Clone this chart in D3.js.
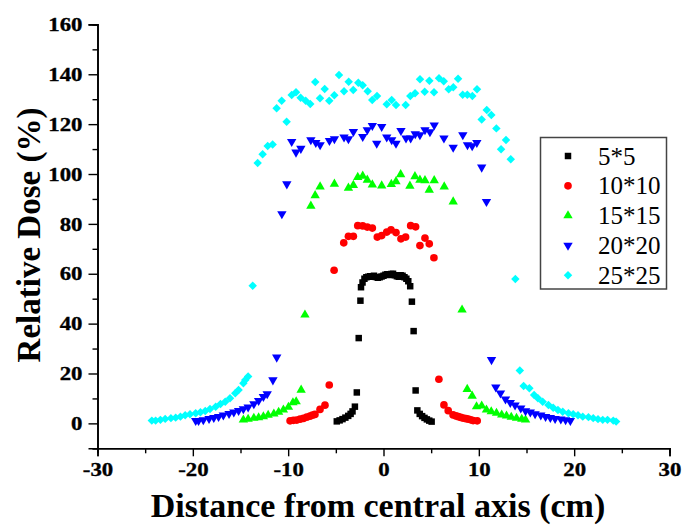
<!DOCTYPE html>
<html><head><meta charset="utf-8">
<script src="https://cdn.jsdelivr.net/npm/d3@7"></script>
<style>
body{margin:0;background:#fff;}
svg{display:block;}
</style></head><body>
<svg id="chart" width="683" height="527"></svg>
<script>
// Beam profiles: relative dose (%) against off-axis distance (cm)
const seriesNames = ["5*5", "10*10", "15*15", "20*20", "25*25"];
const seriesColors = ["#000000", "#ff0000", "#00ff00", "#0000ff", "#00ffff"];
const seriesShapes = ["square", "circle", "triangle", "triangleDown", "diamond"];

const field5 = [
  [-4.9,0.8],[-4.6,1.2],[-4.3,1.7],[-4.0,2.3],[-3.7,3.0],[-3.45,3.8],[-3.25,4.8],[-3.0,6.7],[-2.8,12.4],[-2.6,34.2],[-2.42,49.2],
  [-2.36,54.6],[-2.2,56.5],[-2.0,58],[-1.8,58.6],[-1.6,58.8],[-1.4,59],[-1.2,58.8],[-1.0,59.2],[-0.8,58.7],[-0.6,58.4],[-0.4,58.6],
  [-0.2,58.9],[0,59.2],[0.2,59.6],[0.4,59.8],[0.6,59.5],[0.8,59.9],[1.0,60],[1.2,59.4],[1.4,59],[1.6,58.8],[1.8,59.4],[2.0,59.2],
  [2.2,58.6],[2.4,58],[2.6,57],[2.8,55],
  [2.98,48.8],[3.16,37],[3.37,13.2],[3.55,5.2],[3.8,3.8],[4.05,2.9],[4.3,2.2],[4.55,1.6],[4.8,1.1],[5.05,0.7]
];
const field10 = [
  [-9.8,1.0],[-9.45,1.2],[-9.1,1.3],[-8.75,1.7],[-8.4,2.0],[-8.05,2.5],[-7.71,2.9],[-7.45,3.3],[-7.19,3.6],[-6.66,5.6],[-6.14,7.3],[-5.69,15.4],
  [-5.18,61.4],[-4.17,72.4],[-3.68,75],[-3.16,75],[-2.7,79.3],[-2.18,79.2],[-1.7,78.7],[-1.17,78.3],[-0.65,74.7],[-0.19,75.3],
  [0.34,76.7],[0.79,77.6],[1.31,76.5],[1.83,74],[2.32,74.7],[2.85,79.3],[3.37,78.8],[3.82,71.3],[4.35,74.3],[4.8,72],[5.29,66.4],
  [5.81,17.7],[6.34,7.4],[6.79,5.1],[7.3,3.4],[7.6,3.0],[7.85,2.7],[8.1,2.4],[8.37,2.1],[8.65,1.9],[8.9,1.7],[9.15,1.4],[9.4,1.1],[9.83,1.0]
];
const field15 = [
  [-14.7,1.4],[-14.2,1.7],[-13.6,2.1],[-13.1,2.3],[-12.6,2.7],[-12.1,3.3],[-11.5,3.8],[-11.0,4.5],[-10.5,5.4],[-9.97,6.5],[-9.5,8.3],
  [-9.16,8.7],[-8.64,13.4],[-8.24,43.5],
  [-7.62,87.2],[-7.17,91.4],[-6.65,94.9],[-5.15,96],[-3.68,94.4],[-3.16,95.5],[-2.7,98.7],[-2.18,99.2],[-1.7,97.6],[-1.17,95.7],
  [-0.19,95.3],[0.82,95.9],[1.31,97],[1.8,99.8],[2.77,95.2],[3.3,99],[3.82,97.6],[4.35,97.4],[4.8,93.6],[5.32,97.4],[6.37,94.9],[7.31,88.9],
  [8.24,45.5],[8.78,13.7],[9.3,11],[9.76,6.7],[10.3,7.0],[10.8,5.4],[11.3,4.7],[11.85,4.1],[12.4,3.4],[12.9,3.0],[13.4,2.5],
  [13.95,2.1],[14.5,1.7],[14.9,1.4]
];
const field20 = [
  [-19.7,1.1],[-19.4,1.1],[-18.9,1.4],[-18.3,1.9],[-17.8,2.3],[-17.3,2.7],[-16.8,3.3],[-16.2,3.9],[-15.7,4.5],[-15.2,5.1],[-14.7,5.8],
  [-14.2,6.5],[-13.6,7.8],[-13.1,9.1],[-12.6,10.7],[-12.2,11.8],[-11.6,17.4],[-11.2,26.5],
  [-10.66,84],[-10.14,96],[-9.63,113],[-9.18,108.7],[-8.67,110.2],[-7.62,113.7],[-7.1,112.6],[-6.65,111.7],[-5.67,113.4],[-5.15,114.1],
  [-4.14,114.8],[-3.68,114.1],[-3.16,117],[-2.18,115],[-1.7,117.7],[-1.17,119.4],[-0.71,112.3],[-0.19,119],[0.34,114.8],[0.86,113.7],
  [1.31,112.3],[1.83,117.4],[2.36,114.4],[2.85,114.4],[3.33,116.1],[3.82,115.7],[4.35,117.7],[4.87,116.9],[5.32,119.6],[6.34,114.4],
  [7.31,110.7],[8.32,115.7],[8.81,111.7],[9.3,111.3],[9.79,112.6],[10.3,102.7],[10.8,88.9],
  [11.33,25.5],[11.78,14.5],[12.27,12.1],[12.8,9.7],[13.3,8.3],[13.8,7.3],[14.4,6.1],[14.9,5.0],[15.4,4.5],[15.9,3.8],[16.5,3.3],
  [17.0,2.7],[17.5,2.3],[18.0,1.9],[18.6,1.7],[19.1,1.4],[19.6,1.1]
];
const field25 = [
  [-24.3,1.1],[-23.9,1.1],[-23.4,1.4],[-22.9,1.8],[-22.3,2.1],[-21.8,2.3],[-21.3,2.7],[-20.8,3.3],[-20.3,3.7],[-19.7,4.1],[-19.2,4.5],
  [-18.7,5.0],[-18.2,5.8],[-17.6,6.7],[-17.1,7.8],[-16.6,8.7],[-16.1,10.1],[-15.55,12.1],[-15.2,13.4],[-14.7,16.1],[-14.5,17.4],[-14.2,18.8],
  [-13.72,55.2],[-13.2,104.4],[-12.68,107.9],[-12.15,111.2],[-11.63,111.8],
  [-11.21,126.4],[-10.68,129.4],[-10.16,121.0],[-9.63,131.7],[-9.18,132.8],[-8.69,130.6],[-8.16,129.4],[-7.68,128.1],[-7.16,136.9],
  [-6.66,130.4],[-6.17,134.1],[-5.69,129.4],[-5.16,131.6],[-4.67,139.7],[-4.14,133.2],[-3.65,137.0],[-3.17,133.7],[-2.64,136.6],
  [-2.18,135.6],[-1.66,133.2],[-1.18,129.7],[-0.68,131.3],[0.34,128.0],[0.86,129.7],[1.31,127.7],[2.33,127.7],[2.81,131.3],[3.31,132.4],
  [3.83,138.0],[4.32,133.0],[4.81,137.4],[5.30,132.8],[5.82,138.4],[6.32,137.2],[6.84,134.0],[7.32,134.8],[7.82,138.2],[8.31,131.8],
  [8.79,131.8],[9.32,131.3],[9.81,134.0],[10.30,121.9],[10.83,125.7],[11.31,123.7],[11.84,118.3],[12.33,109.9],[12.85,113.6],[13.35,105.9],
  [13.83,57.9],
  [14.3,21.2],[14.7,15.0],[15.3,14.1],[15.8,11.4],[16.2,10.1],[16.7,8.7],[17.3,7.4],[17.8,6.3],[18.3,5.4],[18.8,4.7],[19.4,4.1],
  [19.9,3.7],[20.4,3.3],[20.9,2.7],[21.5,2.5],[22.0,2.1],[22.5,1.7],[23.0,1.4],[23.5,1.4],[24.1,1.1],[24.4,0.7]
];
const seriesData = [field5, field10, field15, field20, field25];

const xMajorTicks = [-30, -20, -10, 0, 10, 20, 30];
const xMinorTicks = [-25, -15, -5, 5, 15, 25];
const yMajorTicks = [0, 20, 40, 60, 80, 100, 120, 140, 160];
const yMinorTicks = [-10, 10, 30, 50, 70, 90, 110, 130, 150];

const svg = d3.select("#chart");
const x = d3.scaleLinear().domain([-30, 30]).range([97.5, 669.5]);
const y = d3.scaleLinear().domain([-10, 160]).range([448.3, 24.4]);
const font = "Liberation Serif, Times New Roman, serif";
const labelStretch = 1.17;   // tick labels are set a little wide

// marker shapes
const shapeType = {
  square: {type: d3.symbolSquare, size: 42, rot: 0},
  circle: {type: d3.symbolCircle, size: 46, rot: 0},
  triangle: {type: d3.symbolTriangle, size: 38, rot: 0},
  triangleDown: {type: d3.symbolTriangle, size: 38, rot: 180},
  diamond: {type: d3.symbolSquare, size: 36, rot: 45}
};
function symbolPath(name) {
  return d3.symbol().type(shapeType[name].type).size(shapeType[name].size)();
}
const plainFormat = d => String(d);

// axes
const axisG = svg.append("g");
const xAxis = axisG.append("g").attr("transform", `translate(0,${y(-10)})`)
  .call(d3.axisBottom(x).tickValues(xMajorTicks).tickSize(8).tickPadding(6).tickFormat(plainFormat));
const xMinor = axisG.append("g").attr("transform", `translate(0,${y(-10)})`)
  .call(d3.axisBottom(x).tickValues(xMinorTicks).tickSize(5).tickFormat(""));
const yAxis = axisG.append("g").attr("transform", `translate(${x(-30)},0)`)
  .call(d3.axisLeft(y).tickValues(yMajorTicks).tickSize(9).tickPadding(6).tickFormat(plainFormat));
const yMinor = axisG.append("g").attr("transform", `translate(${x(-30)},0)`)
  .call(d3.axisLeft(y).tickValues(yMinorTicks).tickSize(5).tickFormat(""));

axisG.selectAll("g")
  .attr("font-family", font).attr("font-size", 19.5).attr("font-weight", "bold");
axisG.selectAll(".domain").attr("stroke", "#000").attr("stroke-width", 1.6);
axisG.selectAll(".tick line").attr("stroke", "#000").attr("stroke-width", 1.4);
axisG.selectAll(".tick text").attr("fill", "#000")
  .attr("stroke", "#000").attr("stroke-width", 0.35)
  .attr("transform", `scale(${labelStretch},1)`);
yAxis.selectAll(".tick text").attr("x", -15 / labelStretch);

// axis titles
svg.append("text")
  .attr("x", 378).attr("y", 517)
  .attr("text-anchor", "middle")
  .attr("font-family", font).attr("font-weight", "bold").attr("font-size", 34)
  .text("Distance from central axis (cm)");
svg.append("text")
  .attr("transform", "translate(40,235) rotate(-90)")
  .attr("text-anchor", "middle")
  .attr("font-family", font).attr("font-weight", "bold").attr("font-size", 33)
  .text("Relative Dose (%)");

// data markers
seriesData.forEach((data, i) => {
  const sh = seriesShapes[i];
  svg.append("g").selectAll("path").data(data).join("path")
    .attr("d", symbolPath(sh))
    .attr("transform", d => `translate(${x(d[0])},${y(d[1])}) rotate(${shapeType[sh].rot})`)
    .attr("fill", seriesColors[i]);
});

// legend
const legend = svg.append("g");
legend.append("rect")
  .attr("x", 540.5).attr("y", 137.5).attr("width", 126).attr("height", 151.5)
  .attr("fill", "#fff").attr("stroke", "#444").attr("stroke-width", 1.5);
seriesNames.forEach((name, i) => {
  const cy = 156 + i * 29.8;
  const sh = seriesShapes[i];
  legend.append("path")
    .attr("d", symbolPath(sh))
    .attr("transform", `translate(568,${cy}) rotate(${shapeType[sh].rot})`)
    .attr("fill", seriesColors[i]);
  legend.append("text")
    .attr("x", 598).attr("y", cy + 8.5)
    .attr("font-family", font).attr("font-size", 25)
    .text(name);
});
</script>
</body></html>
